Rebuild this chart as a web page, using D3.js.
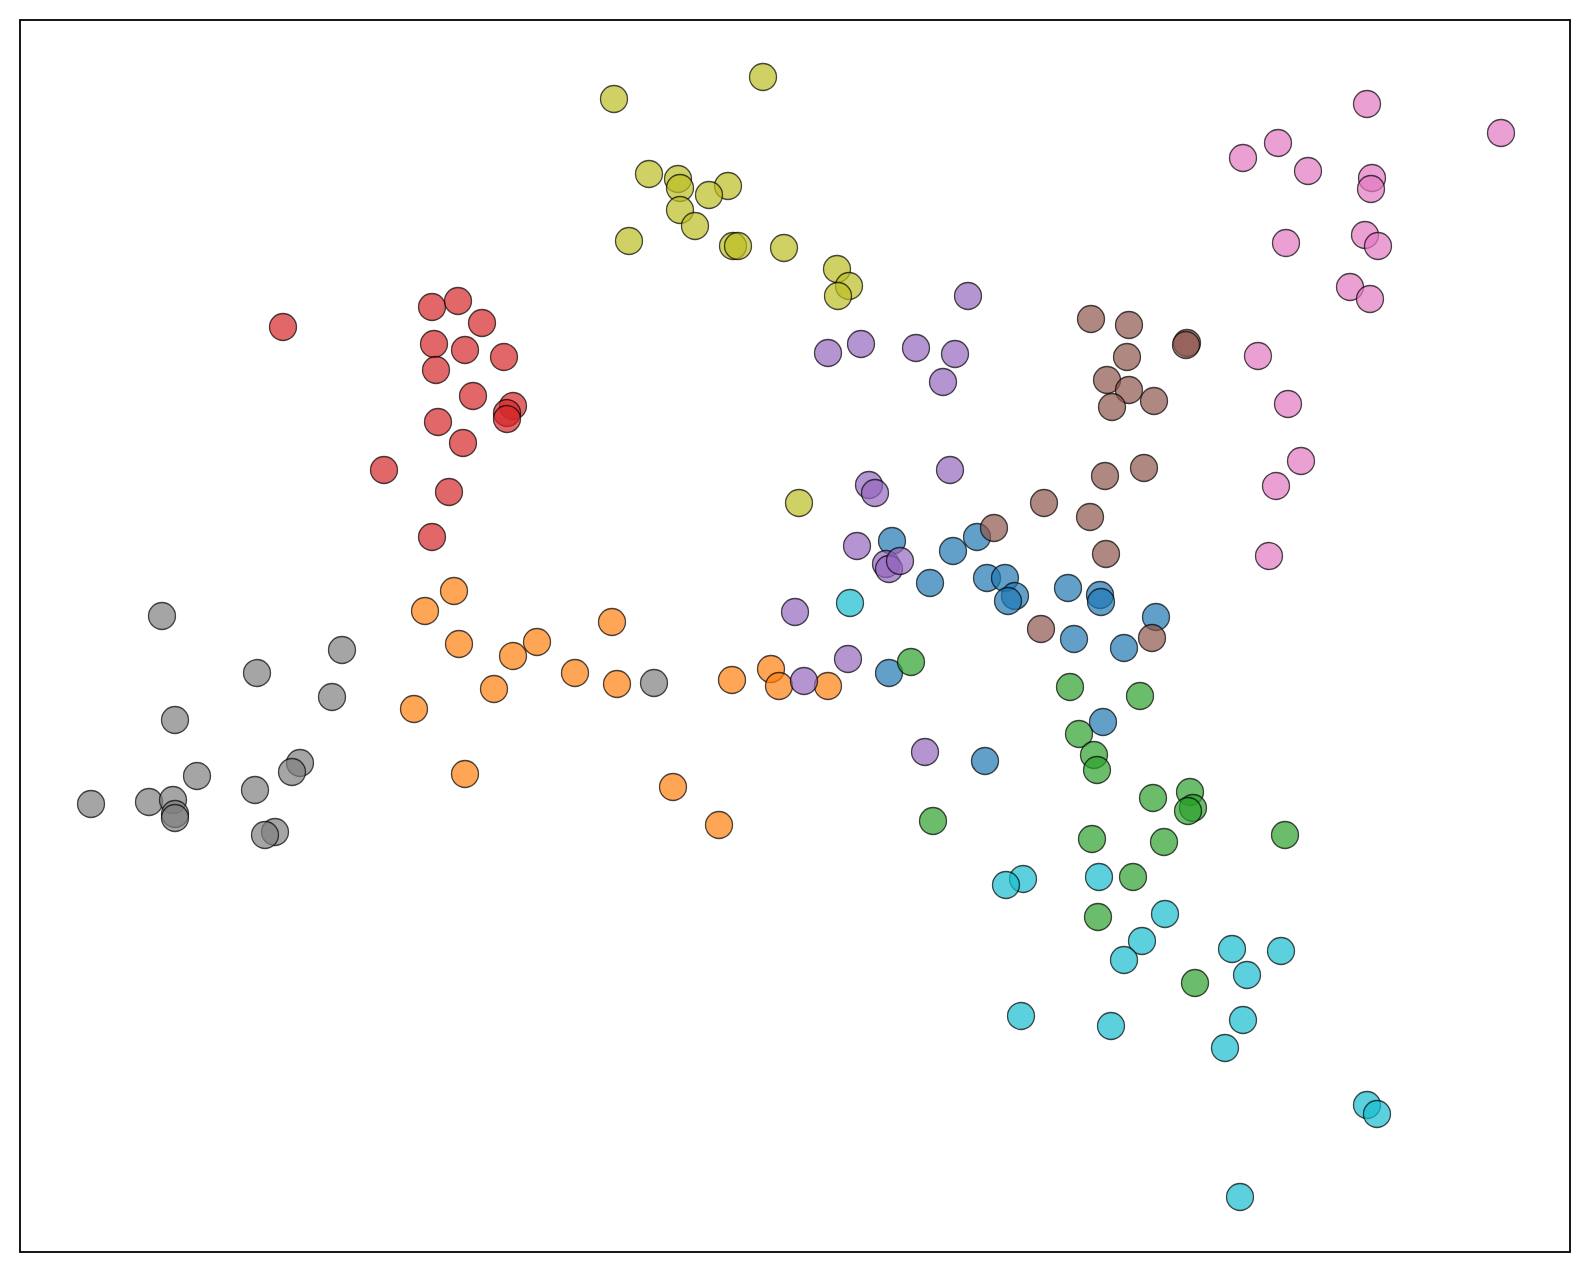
<!DOCTYPE html>
<html>
<head>
<meta charset="utf-8">
<script src="https://cdn.jsdelivr.net/npm/d3@7"></script>
<style>
  body { margin: 0; background: #fff; }
</style>
</head>
<body>
<script>
// class order (tab10)
const classes = ['c0', 'c1', 'c2', 'c3', 'c4', 'c5', 'c6', 'c7', 'c8', 'c9'];
const colors = ['#1f77b4', '#ff7f0e', '#2ca02c', '#d62728', '#9467bd',
                '#8c564b', '#e377c2', '#7f7f7f', '#bcbd22', '#17becf'];

// [x, y] per class
const blue = [[87.1,71.2],[95.6,71.6],[93.2,70.2],[90.9,67.0],[96.6,67.5],[98.4,67.5],[99.4,65.7],[98.7,65.2],
  [104.7,66.5],[107.9,65.8],[108.0,65.1],[113.5,63.6],[105.3,61.4],[110.3,60.5],[86.8,58.0],[108.2,53.1],[96.4,49.2]];
const orange = [[43.3,66.2],[40.4,64.2],[59.1,63.1],[51.6,61.1],[43.8,60.9],[49.2,59.7],[55.4,58.0],[59.6,56.9],
  [47.3,56.4],[39.3,54.4],[71.1,57.3],[75.0,58.4],[75.8,56.7],[80.7,56.7],[44.4,47.9],[65.2,46.6],[69.8,42.8]];
const green = [[89.0,59.1],[104.9,56.6],[111.9,55.7],[105.8,51.9],[107.3,49.8],[107.6,48.3],[113.2,45.5],[116.9,46.1],
  [117.2,44.5],[116.7,44.2],[91.2,43.2],[107.1,41.4],[114.3,41.1],[126.4,41.8],[111.2,37.6],[107.7,33.6],[117.4,27.0]];
const red = [[26.2,92.6],[41.1,94.6],[43.7,95.2],[46.1,93.0],[41.3,90.9],[44.4,90.3],[48.3,89.6],[41.5,88.3],
  [45.2,85.7],[49.2,84.7],[48.6,84.0],[48.6,83.4],[41.7,83.1],[44.2,81.0],[36.3,78.3],[42.8,76.1],[41.1,71.6]];
const purple = [[94.7,95.7],[80.7,90.0],[84.0,90.9],[89.5,90.5],[93.4,89.9],[92.2,87.1],[92.9,78.3],[84.8,76.8],
  [85.4,76.0],[83.6,70.7],[86.5,68.9],[86.8,68.4],[87.9,69.2],[77.4,64.1],[82.7,59.4],[78.3,57.2],[90.4,50.1]];
const brown = [[107.0,93.4],[110.8,92.8],[116.6,91.0],[116.5,90.8],[110.6,89.6],[108.6,87.3],[110.8,86.3],[113.3,85.2],
  [109.1,84.6],[112.3,78.5],[108.4,77.7],[102.3,75.0],[106.9,73.6],[97.3,72.5],[108.5,69.9],[102.0,62.4],[113.1,61.5]];
const pink = [[134.6,114.9],[148.0,112.0],[125.7,111.0],[122.2,109.5],[128.7,108.2],[135.1,107.5],[135.0,106.4],[126.5,101.0],
  [134.4,101.8],[135.7,100.7],[132.9,96.6],[134.9,95.4],[123.7,89.7],[126.7,84.9],[128.0,79.2],[125.5,76.7],[124.8,69.7]];
const gray = [[14.1,63.7],[32.1,60.3],[23.6,58.0],[31.1,55.6],[15.4,53.3],[63.3,57.0],[27.9,49.0],[27.1,48.1],
  [17.6,47.7],[23.4,46.3],[7.0,44.9],[12.8,45.1],[15.2,45.3],[15.4,43.9],[15.4,43.5],[25.4,42.1],[24.4,41.8]];
const olive = [[59.3,115.4],[74.2,117.6],[62.8,107.9],[65.7,107.4],[65.9,106.5],[70.7,106.7],[68.8,105.8],[65.9,104.3],
  [67.4,102.7],[60.8,101.2],[71.2,100.7],[71.7,100.7],[76.3,100.5],[81.6,98.4],[82.8,96.7],[81.7,95.7],[77.8,75.0]];
const cyan = [[82.9,65.0],[100.2,37.4],[98.5,36.8],[107.8,37.6],[114.4,33.9],[112.1,31.2],[110.3,29.3],[121.1,30.4],
  [126.0,30.2],[122.6,27.8],[100.0,23.7],[109.0,22.7],[122.2,23.3],[120.4,20.5],[134.6,14.8],[135.6,13.9],[121.9,5.6]];

const groups = [blue, orange, green, red, purple, brown, pink, gray, olive, cyan];

const points = [];
groups.forEach((g, i) => g.forEach(p => points.push({x: p[0], y: p[1], cls: classes[i]})));

const outerWidth = 1589;
const outerHeight = 1272;
const margin = {top: 20, left: 20, bottom: 20, right: 19};
const width = outerWidth - margin.left - margin.right;
const height = outerHeight - margin.top - margin.bottom;

const svg = d3.select('body')
  .append('svg')
  .attr('width', outerWidth)
  .attr('height', outerHeight)
  .append('g')
  .attr('transform', `translate(${margin.left}, ${margin.top})`);

const xScale = d3.scaleLinear()
    .domain([-0.1, 154.9])
    .range([0, width]);

const yScale = d3.scaleLinear()
    .domain([0.1, 123.3])
    .range([height, 0]);

const colorScale = d3.scaleOrdinal()
    .domain(classes)
    .range(colors);

svg.selectAll('circle')
    .data(points)
    .enter()
    .append('circle')
    .attr('cx', d => xScale(d.x))
    .attr('cy', d => yScale(d.y))
    .attr('r', 13.5)
    .attr('fill', d => colorScale(d.cls))
    .attr('fill-opacity', 0.7)
    .attr('stroke', '#000')
    .attr('stroke-opacity', 0.7)
    .attr('stroke-width', 1.3);

// frame
svg.append('rect')
    .attr('x', 0)
    .attr('y', 0)
    .attr('width', width)
    .attr('height', height)
    .attr('fill', 'none')
    .attr('stroke', '#000')
    .attr('stroke-width', 1.8);
</script>
</body>
</html>
